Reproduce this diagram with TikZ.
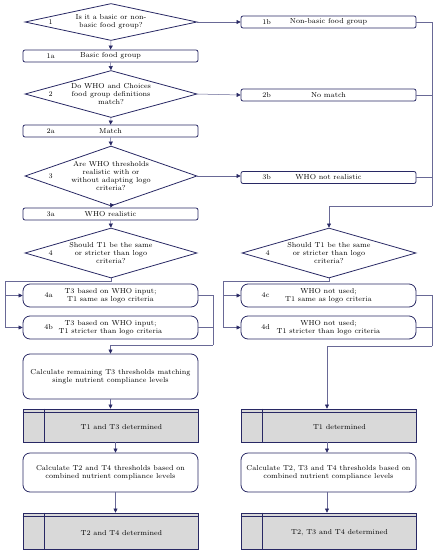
\documentclass[tikz,border=0pt]{standalone}
\usepackage{tikz}
\usetikzlibrary{shapes.geometric}
\usetikzlibrary{positioning,calc,arrows.meta}

\definecolor{navy}{RGB}{40,40,100}
\definecolor{wirecol}{RGB}{105,105,150}
\definecolor{shade}{RGB}{217,217,217}

\begin{document}
\begin{tikzpicture}[x=1pt,y=-1pt]
 \useasboundingbox (0,0) rectangle (438,550);

\tikzstyle{txt}=[font=\fontsize{7.2}{7.8}\selectfont,align=center,inner sep=0pt]
\tikzstyle{decision}=[txt,draw=navy,line width=0.8pt,diamond,minimum width=172pt]
\tikzstyle{stepbox}=[txt,draw=navy,line width=0.8pt,rounded corners=2pt,minimum width=175pt,minimum height=12pt]
\tikzstyle{outcome}=[txt,draw=navy,line width=0.8pt,rounded corners=7pt,minimum width=175pt]
\tikzstyle{result}=[draw=navy,line width=0.8pt,fill=shade,minimum width=175pt,inner sep=0pt]
\tikzstyle{wire}=[draw=wirecol,line width=0.5pt]
\tikzstyle{flow}=[wire,-{Triangle[length=4pt,width=4pt,color=navy]}]

   %draw left column
   \node (dec_1) [decision,aspect=4.65,minimum height=37pt] at (111,22) {Is it a basic or non-\\basic food group?};
   \node (box_1a) [stepbox] at (110.5,56) {Basic food group};
   \node (dec_2) [decision,aspect=3.66,minimum height=47pt] at (111,94) {Do WHO and Choices\\food group definitions\\match?};
   \node (box_2a) [stepbox] at (110.5,131) {Match};
   \node (dec_3) [decision,aspect=2.87,minimum height=60pt] at (111,176) {Are WHO thresholds\\realistic with or\\without adapting logo\\criteria?};
   \node (box_3a) [stepbox] at (110.5,214) {WHO realistic};
   \node (dec_4l) [decision,aspect=3.44,minimum height=50pt] at (111,253) {Should T1 be the same\\or stricter than logo\\criteria?};

   %draw right column
   \node (box_1b) [stepbox] at (328.5,22) {Non-basic food group};
   \node (box_2b) [stepbox] at (328.5,95) {No match};
   \node (box_3b) [stepbox] at (328.5,177.5) {WHO not realistic};
   \node (dec_4r) [decision,aspect=3.44,minimum width=174pt,minimum height=50pt] at (329,253) {Should T1 be the same\\or stricter than logo\\criteria?};

   %step numbers
   \node (num_1) [txt] at ([xshift=26pt]dec_1.west) {1};
   \node (num_2) [txt] at ([xshift=26pt]dec_2.west) {2};
   \node (num_3) [txt] at ([xshift=26pt]dec_3.west) {3};
   \node (num_4l) [txt] at ([xshift=26pt]dec_4l.west) {4};
   \node (num_4r) [txt] at ([xshift=26pt]dec_4r.west) {4};
   \node (num_1a) [txt] at ([xshift=28pt]box_1a.west) {1a};
   \node (num_2a) [txt] at ([xshift=28pt]box_2a.west) {2a};
   \node (num_3a) [txt] at ([xshift=28pt]box_3a.west) {3a};
   \node (num_1b) [txt] at ([xshift=26pt]box_1b.west) {1b};
   \node (num_2b) [txt] at ([xshift=26pt]box_2b.west) {2b};
   \node (num_3b) [txt] at ([xshift=26pt]box_3b.west) {3b};

   %outcomes of step 4
   \node (box_4a) [outcome,minimum height=23pt] at (110.5,295.5) {T3 based on WHO input;\\T1 same as logo criteria};
   \node (box_4b) [outcome,minimum height=23pt] at (110.5,327.5) {T3 based on WHO input;\\T1 stricter than logo criteria};
   \node (box_4c) [outcome,minimum height=23pt] at (328.5,295.5) {WHO not used;\\T1 same as logo criteria};
   \node (box_4d) [outcome,minimum height=23pt] at (328.5,327.5) {WHO not used;\\T1 stricter than logo criteria};
   \node (num_4a) [txt] at ([xshift=26pt]box_4a.west) {4a};
   \node (num_4b) [txt] at ([xshift=26pt]box_4b.west) {4b};
   \node (num_4c) [txt] at ([xshift=25pt]box_4c.west) {4c};
   \node (num_4d) [txt] at ([xshift=25pt]box_4d.west) {4d};

   \node (calc_l) [outcome,minimum height=45pt] at (110.5,376.5) {Calculate remaining T3 thresholds matching\\single nutrient compliance levels};
   \node (res_13) [result,minimum height=33pt] at (110.5,425.5) {};
   \node (calc_24) [outcome,minimum height=39pt] at (110.5,472.5) {Calculate T2 and T4 thresholds based on\\combined nutrient compliance levels};
   \node (res_24) [result,minimum height=36pt] at (110.5,531) {};
   \node (res_1) [result,minimum height=33pt] at (328.5,425.5) {};
   \node (calc_234) [outcome,minimum height=39pt] at (328.5,472.5) {Calculate T2, T3 and T4 thresholds based on\\combined nutrient compliance levels};
   \node (res_234) [result,minimum height=36pt] at (328.5,531) {};

   \foreach \r in {res_13,res_24,res_1,res_234} {
     \draw[navy,line width=0.8pt] ([yshift=-4pt]\r.north west) -- ([yshift=-4pt]\r.north east);
     \draw[navy,line width=0.8pt] ([xshift=22pt]\r.north west) -- ([xshift=22pt]\r.south west);
   }
   \node (res_13_text) [txt] at ($(res_13.center)+(11,2)$) {T1 and T3 determined};
   \node (res_24_text) [txt] at ($(res_24.center)+(11,2)$) {T2 and T4 determined};
   \node (res_1_text) [txt] at ($(res_1.center)+(11,2)$) {T1 determined};
   \node (res_234_text) [txt] at ($(res_234.center)+(11,2)$) {T2, T3 and T4 determined};

   %main line
   \draw[flow] (dec_1.south) -- (box_1a.north);
   \draw[flow] (box_1a.south) -- (dec_2.north);
   \draw[flow] (dec_2.south) -- (box_2a.north);
   \draw[flow] (box_2a.south) -- (dec_3.north);
   \draw[flow] (dec_3.south) -- (box_3a.north);
   \draw[flow] (box_3a.south) -- (dec_4l.north);

   %branches to the right
   \draw[flow] (dec_1.east) -- (box_1b.west);
   \draw[flow] (dec_2.east) -- (box_2b.west);
   \draw[flow] (dec_3.east) -- (box_3b.west |- dec_3.east);
   \coordinate (rail_end) at (432,206);
   \draw[wire] (box_1b.east) -- (rail_end |- box_1b.east) -- (rail_end);
   \draw[wire] (box_2b.east) -- (rail_end |- box_2b.east);
   \draw[wire] (box_3b.east) -- (rail_end |- box_3b.east);
   \draw[flow] (rail_end) -| (dec_4r.north);

   %forks of step 4
   \coordinate (fork_l) at (5,281);
   \coordinate (fork_r) at (223,281);
   \draw[wire] (dec_4l.south) |- (fork_l);
   \draw[flow] (fork_l) |- (box_4a.west);
   \draw[flow] (fork_l) |- (box_4b.west);
   \draw[wire] (dec_4r.south) |- (fork_r);
   \draw[flow] (fork_r) |- (box_4c.west);
   \draw[flow] (fork_r) |- (box_4d.west);

   \coordinate (join_l) at (213,345);
   \coordinate (join_r) at (432,346);
   \draw[wire] (box_4a.east) -| (join_l);
   \draw[wire] (box_4b.east) -| (join_l);
   \draw[flow] (join_l) -| (calc_l.north);
   \draw[wire] (box_4c.east) -| (join_r);
   \draw[wire] (box_4d.east) -| (join_r);
   \draw[flow] (join_r) -| ([xshift=-1.5pt]res_1.north);

   %final steps
   \draw[flow] (calc_l.south) -- (res_13.north);
   \draw[flow] ([xshift=5pt]res_13.south) -- ([xshift=5pt]calc_24.north);
   \draw[flow] ([xshift=5pt]calc_24.south) -- ([xshift=5pt]res_24.north);
   \draw[flow] ([xshift=-1.5pt]res_1.south) -- ([xshift=-1.5pt]calc_234.north);
   \draw[flow] ([xshift=-1.5pt]calc_234.south) -- ([xshift=-1.5pt]res_234.north);

\end{tikzpicture}
\end{document}
